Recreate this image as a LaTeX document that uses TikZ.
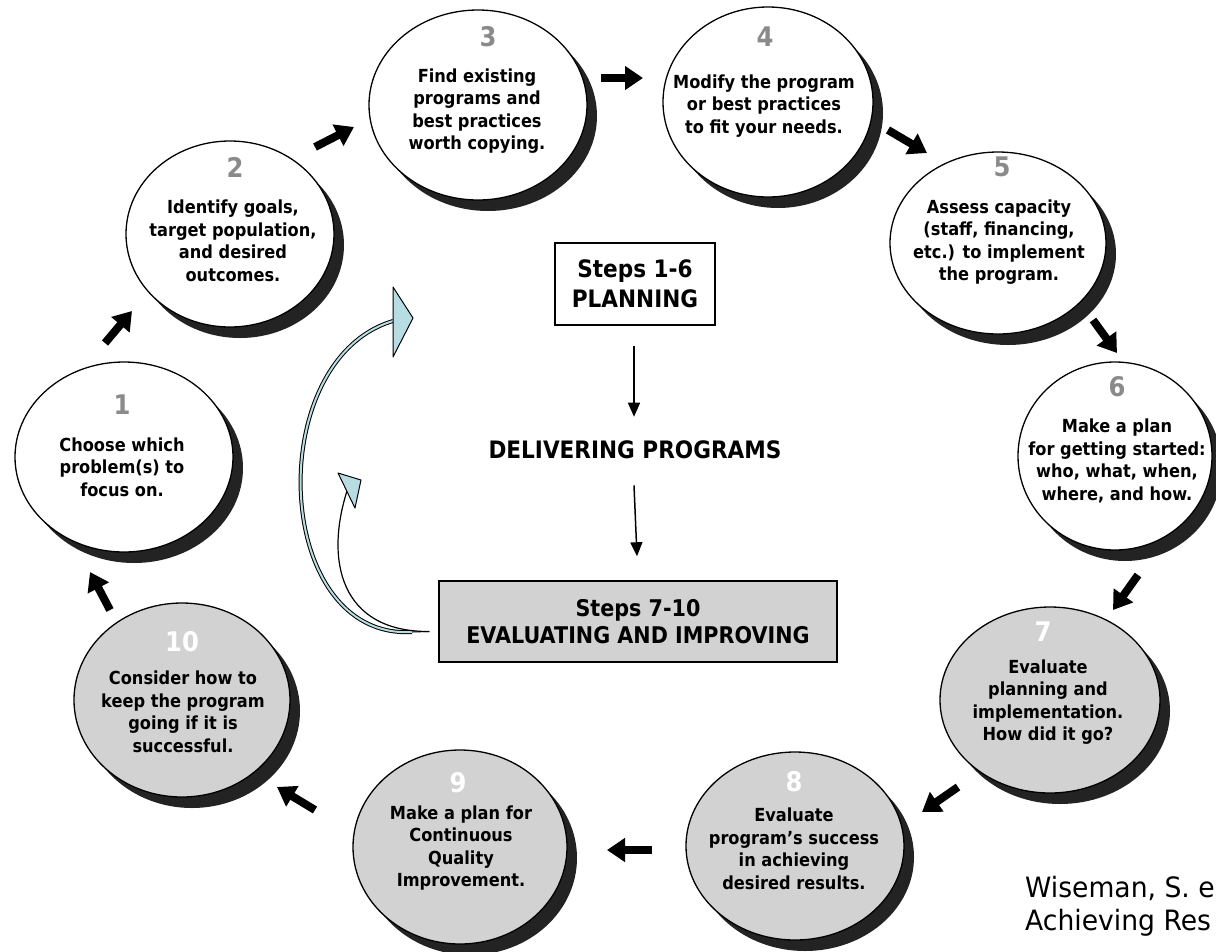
\documentclass[tikz,border=0pt]{standalone}
\usepackage{fontspec}
\setmainfont{DejaVu Sans}[FakeStretch=0.9]
\newfontfamily\citefont{DejaVu Sans}[FakeStretch=0.95]
\usetikzlibrary{shapes.geometric,arrows.meta}
\definecolor{numgray}{RGB}{138,138,138}
\definecolor{fillgray}{RGB}{210,210,210}
\definecolor{shadowc}{RGB}{35,35,35}
\definecolor{lblue}{RGB}{183,221,226}
\tikzset{
  stepcirc/.style={ellipse, draw=black, line width=1.3pt, inner sep=0pt},
  shadowcirc/.style={ellipse, fill=shadowc, inner sep=0pt},
  numlbl/.style={font=\fontsize{27}{27}\selectfont\bfseries, inner sep=0pt},
  steptxt/.style={font=\fontsize{18}{22.5}\selectfont\bfseries, align=center, inner sep=0pt},
  blockarrow/.style={line width=8pt, -{Triangle[width=23pt,length=18pt]}},
  thinarrow/.style={line width=1.5pt, -{Triangle[width=12pt,length=14pt]}},
  centertxt/.style={font=\fontsize{24}{30}\selectfont\bfseries, align=center},
  headshape/.style={fill=lblue, draw=black, line width=1pt, line join=round},
}
% name, x, y, rx, ry, fill
\newcommand{\StepCirc}[6]{%
  \node[shadowcirc, minimum width=#4*2pt, minimum height=#5*2pt] (#1s) at (#2+10,#3+11) {};
  \node[stepcirc, fill=#6, minimum width=#4*2pt, minimum height=#5*2pt] (#1) at (#2,#3) {};
}
\begin{document}
\begin{tikzpicture}[x=1pt,y=-1pt]
\useasboundingbox (0,0) rectangle (1216,951);
\clip (0,0) rectangle (1216,951);
\fill[white] (0,0) rectangle (1216,951);

% circles
\StepCirc{c1}{124}{457}{109}{95}{white}
\StepCirc{c2}{230}{234}{104}{93}{white}
\StepCirc{c3}{478}{105}{109}{95}{white}
\StepCirc{c4}{768}{102}{105}{95}{white}
\StepCirc{c5}{998}{243}{108}{91}{white}
\StepCirc{c6}{1115}{456}{97}{94}{white}
\StepCirc{c7}{1050}{700}{110}{93}{fillgray}
\StepCirc{c8}{795}{846}{109}{94}{fillgray}
\StepCirc{c9}{460}{847}{107}{97}{fillgray}
\StepCirc{c10}{182}{700}{108}{97}{fillgray}

% numbers
\node[numlbl, text=numgray] (n1) at (122,405) {1};
\node[numlbl, text=numgray] (n2) at (235,167) {2};
\node[numlbl, text=numgray] (n3) at (488,37) {3};
\node[numlbl, text=numgray] (n4) at (765,37) {4};
\node[numlbl, text=numgray] (n5) at (1002,167) {5};
\node[numlbl, text=numgray] (n6) at (1117,387) {6};
\node[numlbl, text=white] (n7) at (1043,632) {7};
\node[numlbl, text=white] (n8) at (794,782) {8};
\node[numlbl, text=white] (n9) at (458,783) {9};
\node[numlbl, text=white] (n10) at (182,642) {10};

% texts
\node[steptxt] (t1) at (122,467) {Choose which\\problem(s) to\\focus on.};
\node[steptxt] (t2) at (233,241) {Identify goals,\\target population,\\and desired\\outcomes.};
\node[steptxt] (t3) at (477,111) {Find existing\\programs and\\best practices\\worth copying.};
\node[steptxt] (t4) at (764,106) {Modify the program\\or best practices\\to fit your needs.};
\node[steptxt] (t5) at (999,242) {Assess capacity\\(staff, financing,\\etc.) to implement\\the program.};
\node[steptxt] (t6) at (1117,461) {Make a plan\\for getting started:\\who, what, when,\\where, and how.};
\node[steptxt] (t7) at (1048,702) {Evaluate\\planning and\\implementation.\\How did it go?};
\node[steptxt] (t8) at (794,849) {Evaluate\\program’s success\\in achieving\\desired results.};
\node[steptxt] (t9) at (461,848) {Make a plan for\\Continuous\\Quality\\Improvement.};
\node[steptxt] (t10) at (183,712) {Consider how to\\keep the program\\going if it is\\successful.};

% block arrow end points
\coordinate (a1s) at (105,343);  \coordinate (a1e) at (132,311);
\coordinate (a2s) at (315,147);  \coordinate (a2e) at (354,127);
\coordinate (a3s) at (601,78);   \coordinate (a3e) at (643,78);
\coordinate (a4s) at (888,130);  \coordinate (a4e) at (927,153);
\coordinate (a5s) at (1093,320); \coordinate (a5e) at (1117,353);
\coordinate (a6s) at (1138,575); \coordinate (a6e) at (1113,610);
\coordinate (a7s) at (958,787);  \coordinate (a7e) at (922,812);
\coordinate (a8s) at (652,850);  \coordinate (a8e) at (607,850);
\coordinate (a9s) at (315,810);  \coordinate (a9e) at (277,787);
\coordinate (a10s) at (110,610); \coordinate (a10e) at (90,572);
\foreach \i in {1,...,10} {\draw[blockarrow] (a\i s) -- (a\i e);}

% centre boxes
\node[centertxt, draw=black, line width=1.5pt, fill=white, minimum width=160pt, minimum height=82pt, inner sep=0pt] (plan) at (635,284) {Steps 1-6\\PLANNING};
\node[centertxt, inner sep=0pt] (deliver) at (635,450) {DELIVERING PROGRAMS};
\node[font=\fontsize{23}{27}\selectfont\bfseries, align=center, draw=black, line width=1.5pt, fill=fillgray, minimum width=398pt, minimum height=81pt, inner sep=0pt] (eval) at (638,621.5) {Steps 7-10\\EVALUATING AND IMPROVING};

\draw[thinarrow] ([xshift=-1pt,yshift=-20pt]plan.south) -- ([xshift=-1pt,yshift=24pt]deliver.north);
\draw[thinarrow] ([xshift=-1pt,yshift=-26pt]deliver.south) -- ([xshift=-1pt,yshift=24pt]eval.north);

% curved feedback arrows
\coordinate (fb) at ([xshift=-9pt,yshift=-10pt]eval.west);
\coordinate (bigend) at (393,321);
\coordinate (smallend) at (347,491);
\draw[line width=1pt] (fb) -- (412,632);
\draw[line width=1pt, double=lblue, double distance=2pt] (412,632) .. controls (272,640) and (262,360) .. (bigend);
\draw[line width=1.2pt] (fb) .. controls (340,632) and (325,560) .. (smallend);
\draw[headshape] (393,287) -- (413,318) -- (393,357) -- cycle;
\draw[headshape] (338,473) -- (361,480) -- (355,508) -- cycle;

% citation
\node[anchor=base west, inner sep=0pt, font=\citefont\fontsize{28}{33}\selectfont] (cite1) at (1025,897) {Wiseman, S. e};
\node[anchor=base west, inner sep=0pt, font=\citefont\fontsize{28}{33}\selectfont] (cite2) at (1025,930) {Achieving Res};
\end{tikzpicture}
\end{document}
